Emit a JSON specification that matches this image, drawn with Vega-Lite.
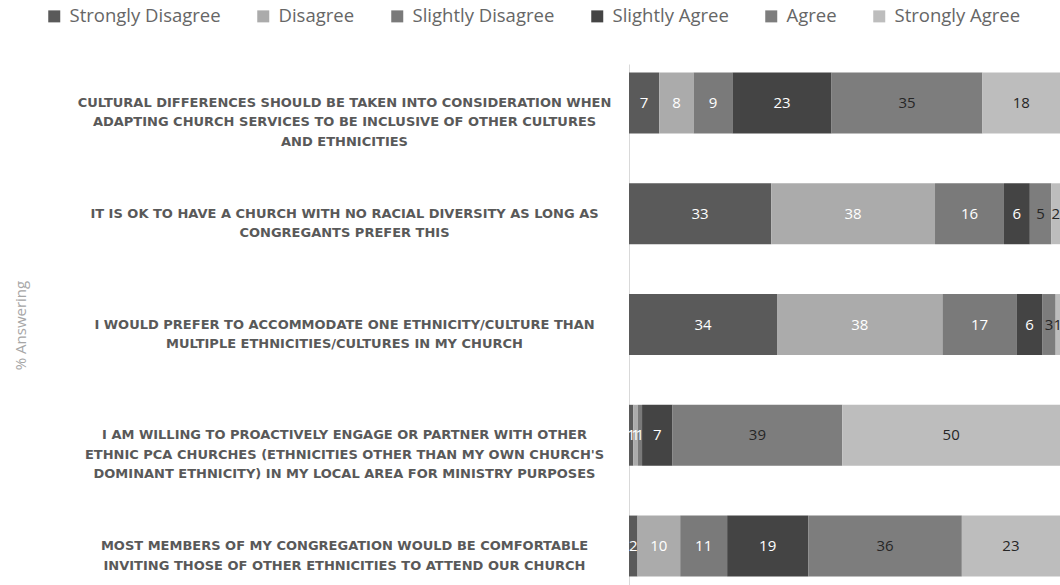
{
  "$schema": "https://vega.github.io/schema/vega-lite/v6.json",
  "autosize": "none",
  "width": 431,
  "height": 521,
  "padding": {"left": 629, "top": 64, "right": 0, "bottom": 0},
  "background": "white",
  "config": {"view": {"stroke": null}},
  "data": {
    "values": [
      {"question": "CULTURAL DIFFERENCES SHOULD BE TAKEN INTO CONSIDERATION WHEN|ADAPTING CHURCH SERVICES TO BE INCLUSIVE OF OTHER CULTURES|AND ETHNICITIES", "response": "Strongly Disagree", "order": 1, "value": 7},
      {"question": "CULTURAL DIFFERENCES SHOULD BE TAKEN INTO CONSIDERATION WHEN|ADAPTING CHURCH SERVICES TO BE INCLUSIVE OF OTHER CULTURES|AND ETHNICITIES", "response": "Disagree", "order": 2, "value": 8},
      {"question": "CULTURAL DIFFERENCES SHOULD BE TAKEN INTO CONSIDERATION WHEN|ADAPTING CHURCH SERVICES TO BE INCLUSIVE OF OTHER CULTURES|AND ETHNICITIES", "response": "Slightly Disagree", "order": 3, "value": 9},
      {"question": "CULTURAL DIFFERENCES SHOULD BE TAKEN INTO CONSIDERATION WHEN|ADAPTING CHURCH SERVICES TO BE INCLUSIVE OF OTHER CULTURES|AND ETHNICITIES", "response": "Slightly Agree", "order": 4, "value": 23},
      {"question": "CULTURAL DIFFERENCES SHOULD BE TAKEN INTO CONSIDERATION WHEN|ADAPTING CHURCH SERVICES TO BE INCLUSIVE OF OTHER CULTURES|AND ETHNICITIES", "response": "Agree", "order": 5, "value": 35},
      {"question": "CULTURAL DIFFERENCES SHOULD BE TAKEN INTO CONSIDERATION WHEN|ADAPTING CHURCH SERVICES TO BE INCLUSIVE OF OTHER CULTURES|AND ETHNICITIES", "response": "Strongly Agree", "order": 6, "value": 18},
      {"question": "IT IS OK TO HAVE A CHURCH WITH NO RACIAL DIVERSITY AS LONG AS|CONGREGANTS PREFER THIS", "response": "Strongly Disagree", "order": 1, "value": 33},
      {"question": "IT IS OK TO HAVE A CHURCH WITH NO RACIAL DIVERSITY AS LONG AS|CONGREGANTS PREFER THIS", "response": "Disagree", "order": 2, "value": 38},
      {"question": "IT IS OK TO HAVE A CHURCH WITH NO RACIAL DIVERSITY AS LONG AS|CONGREGANTS PREFER THIS", "response": "Slightly Disagree", "order": 3, "value": 16},
      {"question": "IT IS OK TO HAVE A CHURCH WITH NO RACIAL DIVERSITY AS LONG AS|CONGREGANTS PREFER THIS", "response": "Slightly Agree", "order": 4, "value": 6},
      {"question": "IT IS OK TO HAVE A CHURCH WITH NO RACIAL DIVERSITY AS LONG AS|CONGREGANTS PREFER THIS", "response": "Agree", "order": 5, "value": 5},
      {"question": "IT IS OK TO HAVE A CHURCH WITH NO RACIAL DIVERSITY AS LONG AS|CONGREGANTS PREFER THIS", "response": "Strongly Agree", "order": 6, "value": 2},
      {"question": "I WOULD PREFER TO ACCOMMODATE ONE ETHNICITY/CULTURE THAN|MULTIPLE ETHNICITIES/CULTURES IN MY CHURCH", "response": "Strongly Disagree", "order": 1, "value": 34},
      {"question": "I WOULD PREFER TO ACCOMMODATE ONE ETHNICITY/CULTURE THAN|MULTIPLE ETHNICITIES/CULTURES IN MY CHURCH", "response": "Disagree", "order": 2, "value": 38},
      {"question": "I WOULD PREFER TO ACCOMMODATE ONE ETHNICITY/CULTURE THAN|MULTIPLE ETHNICITIES/CULTURES IN MY CHURCH", "response": "Slightly Disagree", "order": 3, "value": 17},
      {"question": "I WOULD PREFER TO ACCOMMODATE ONE ETHNICITY/CULTURE THAN|MULTIPLE ETHNICITIES/CULTURES IN MY CHURCH", "response": "Slightly Agree", "order": 4, "value": 6},
      {"question": "I WOULD PREFER TO ACCOMMODATE ONE ETHNICITY/CULTURE THAN|MULTIPLE ETHNICITIES/CULTURES IN MY CHURCH", "response": "Agree", "order": 5, "value": 3},
      {"question": "I WOULD PREFER TO ACCOMMODATE ONE ETHNICITY/CULTURE THAN|MULTIPLE ETHNICITIES/CULTURES IN MY CHURCH", "response": "Strongly Agree", "order": 6, "value": 1},
      {"question": "I AM WILLING TO PROACTIVELY ENGAGE OR PARTNER WITH OTHER|ETHNIC PCA CHURCHES (ETHNICITIES OTHER THAN MY OWN CHURCH'S|DOMINANT ETHNICITY) IN MY LOCAL AREA FOR MINISTRY PURPOSES", "response": "Strongly Disagree", "order": 1, "value": 1},
      {"question": "I AM WILLING TO PROACTIVELY ENGAGE OR PARTNER WITH OTHER|ETHNIC PCA CHURCHES (ETHNICITIES OTHER THAN MY OWN CHURCH'S|DOMINANT ETHNICITY) IN MY LOCAL AREA FOR MINISTRY PURPOSES", "response": "Disagree", "order": 2, "value": 1},
      {"question": "I AM WILLING TO PROACTIVELY ENGAGE OR PARTNER WITH OTHER|ETHNIC PCA CHURCHES (ETHNICITIES OTHER THAN MY OWN CHURCH'S|DOMINANT ETHNICITY) IN MY LOCAL AREA FOR MINISTRY PURPOSES", "response": "Slightly Disagree", "order": 3, "value": 1},
      {"question": "I AM WILLING TO PROACTIVELY ENGAGE OR PARTNER WITH OTHER|ETHNIC PCA CHURCHES (ETHNICITIES OTHER THAN MY OWN CHURCH'S|DOMINANT ETHNICITY) IN MY LOCAL AREA FOR MINISTRY PURPOSES", "response": "Slightly Agree", "order": 4, "value": 7},
      {"question": "I AM WILLING TO PROACTIVELY ENGAGE OR PARTNER WITH OTHER|ETHNIC PCA CHURCHES (ETHNICITIES OTHER THAN MY OWN CHURCH'S|DOMINANT ETHNICITY) IN MY LOCAL AREA FOR MINISTRY PURPOSES", "response": "Agree", "order": 5, "value": 39},
      {"question": "I AM WILLING TO PROACTIVELY ENGAGE OR PARTNER WITH OTHER|ETHNIC PCA CHURCHES (ETHNICITIES OTHER THAN MY OWN CHURCH'S|DOMINANT ETHNICITY) IN MY LOCAL AREA FOR MINISTRY PURPOSES", "response": "Strongly Agree", "order": 6, "value": 50},
      {"question": "MOST MEMBERS OF MY CONGREGATION WOULD BE COMFORTABLE|INVITING THOSE OF OTHER ETHNICITIES TO ATTEND OUR CHURCH", "response": "Strongly Disagree", "order": 1, "value": 2},
      {"question": "MOST MEMBERS OF MY CONGREGATION WOULD BE COMFORTABLE|INVITING THOSE OF OTHER ETHNICITIES TO ATTEND OUR CHURCH", "response": "Disagree", "order": 2, "value": 10},
      {"question": "MOST MEMBERS OF MY CONGREGATION WOULD BE COMFORTABLE|INVITING THOSE OF OTHER ETHNICITIES TO ATTEND OUR CHURCH", "response": "Slightly Disagree", "order": 3, "value": 11},
      {"question": "MOST MEMBERS OF MY CONGREGATION WOULD BE COMFORTABLE|INVITING THOSE OF OTHER ETHNICITIES TO ATTEND OUR CHURCH", "response": "Slightly Agree", "order": 4, "value": 19},
      {"question": "MOST MEMBERS OF MY CONGREGATION WOULD BE COMFORTABLE|INVITING THOSE OF OTHER ETHNICITIES TO ATTEND OUR CHURCH", "response": "Agree", "order": 5, "value": 36},
      {"question": "MOST MEMBERS OF MY CONGREGATION WOULD BE COMFORTABLE|INVITING THOSE OF OTHER ETHNICITIES TO ATTEND OUR CHURCH", "response": "Strongly Agree", "order": 6, "value": 23}
    ]
  },
  "transform": [
    {"stack": "value", "groupby": ["question"], "sort": [{"field": "order", "order": "ascending"}], "offset": "normalize", "as": ["v0", "v1"]},
    {"calculate": "(datum.v0 + datum.v1) / 2", "as": "vmid"}
  ],
  "encoding": {
    "y": {
      "field": "question",
      "type": "nominal",
      "sort": null,
      "scale": {"paddingInner": 0.45, "paddingOuter": 0.077},
      "axis": {
        "title": "% Answering",
        "titleFont": "Open Sans",
        "titleFontSize": 15,
        "titleFontWeight": "normal",
        "titleColor": "#a6a6a6",
        "titleX": -609,
        "titleY": 261,
        "titleAngle": 270,
        "titleBaseline": "middle",
        "labelExpr": "split(datum.label, '|')",
        "labelAlign": "center",
        "labelPadding": 285,
        "labelLimit": 0,
        "labelFont": "DejaVu Sans",
        "labelFontWeight": "bold",
        "labelFontSize": 13,
        "labelColor": "#595959",
        "labelLineHeight": 19.5,
        "ticks": false,
        "domainColor": "#d9d9d9",
        "domainWidth": 1
      }
    }
  },
  "layer": [
    {
      "mark": {"type": "bar"},
      "encoding": {
        "x": {"field": "v0", "type": "quantitative", "scale": {"domain": [0, 1], "nice": false}, "axis": null},
        "x2": {"field": "v1"},
        "color": {
          "field": "response",
          "type": "nominal",
          "sort": ["Strongly Disagree", "Disagree", "Slightly Disagree", "Slightly Agree", "Agree", "Strongly Agree"],
          "scale": {
            "domain": ["Strongly Disagree", "Disagree", "Slightly Disagree", "Slightly Agree", "Agree", "Strongly Agree"],
            "range": ["#5a5a5a", "#ababab", "#7a7a7a", "#444444", "#7d7d7d", "#bdbdbd"]
          },
          "legend": {
            "title": null,
            "orient": "none",
            "direction": "horizontal",
            "columns": 6,
            "legendX": -584,
            "legendY": -57,
            "symbolType": "square",
            "symbolSize": 144,
            "symbolStrokeWidth": 0,
            "labelFont": "Open Sans",
            "labelFontSize": 18.5,
            "labelColor": "#666666",
            "labelOffset": 6,
            "columnPadding": 33,
            "labelLimit": 0
          }
        }
      }
    },
    {
      "mark": {"type": "text", "font": "Open Sans", "fontSize": 15, "baseline": "middle", "align": "center"},
      "encoding": {
        "x": {"field": "vmid", "type": "quantitative"},
        "text": {"field": "value", "type": "quantitative"},
        "color": {
          "condition": {"test": "datum.order >= 5", "value": "#262626"},
          "value": "#ffffff"
        }
      }
    }
  ]
}
